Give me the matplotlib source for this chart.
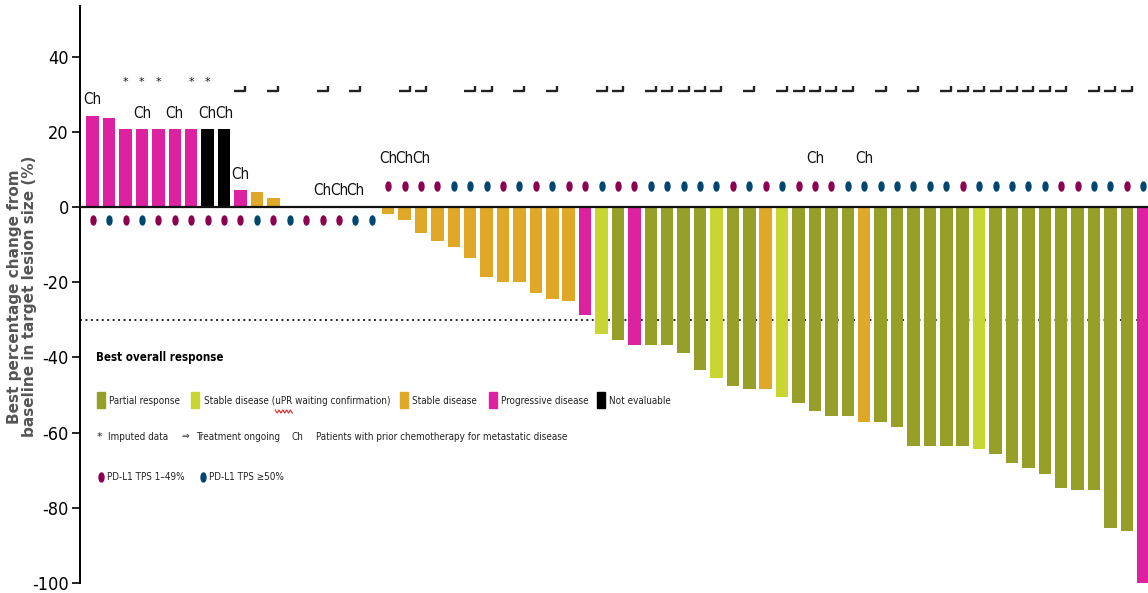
import matplotlib
matplotlib.use("Agg")
import matplotlib.pyplot as plt
from matplotlib.path import Path
from matplotlib.patches import Rectangle
from matplotlib.lines import Line2D
import numpy as np

# best % change per patient, ordered as in the waterfall
change = [24.3, 23.6, 20.7, 20.7, 20.7, 20.7, 20.7, 20.7, 20.7, 4.6, 3.9, 2.4,
          0, 0, 0, 0, 0, 0,
          -1.8, -3.4, -6.9, -9.1, -10.7, -13.5, -18.7, -20.0, -20.0, -22.9, -24.4, -25.1,
          -28.7, -33.8, -35.3, -36.8, -36.8, -36.8, -38.8, -43.3, -45.5, -47.6, -48.3,
          -48.3, -50.6, -52.1, -54.2, -55.7, -55.7, -57.1, -57.1, -58.5,
          -63.5, -63.5, -63.5, -63.5, -64.4, -65.8, -68.0, -69.5, -70.9,
          -74.6, -75.3, -75.3, -85.5, -86.2, -100.0]

# PR partial response, SDu stable disease (uPR), SD stable, PD progressive, NE not evaluable
response = ["PD", "PD", "PD", "PD", "PD", "PD", "PD", "NE", "NE", "PD", "SD", "SD",
            "SD", "SD", "SD", "SD", "SD", "SD",
            "SD", "SD", "SD", "SD", "SD", "SD", "SD", "SD", "SD", "SD", "SD", "SD",
            "PD", "SDu", "PR", "PD", "PR", "PR", "PR", "PR", "SDu", "PR", "PR",
            "SD", "SDu", "PR", "PR", "PR", "PR", "SD", "PR", "PR",
            "PR", "PR", "PR", "PR", "SDu", "PR", "PR", "PR", "PR",
            "PR", "PR", "PR", "PR", "PR", "PD"]

# PD-L1 TPS group: L = 1-49 %, H = >=50 %
pdl1 = ["L", "H", "L", "H", "L", "L", "L", "L", "L", "L", "H", "L",
        "H", "L", "L", "L", "H", "H",
        "L", "L", "L", "L", "H", "H", "H", "L", "H", "L", "H", "L",
        "L", "H", "L", "L", "H", "H", "H", "H", "H", "L", "H",
        "L", "H", "L", "L", "L", "H", "H", "H", "H",
        "H", "H", "H", "L", "H", "H", "H", "H", "H",
        "L", "L", "H", "H", "L", "H"]

chemo = [0, 3, 5, 7, 8, 9, 14, 15, 16, 18, 19, 20, 44, 47]
imputed = [2, 3, 4, 6, 7]
ongoing = [9, 11, 14, 16, 19, 20, 23, 24, 26, 28, 31, 32, 34, 35, 36, 37, 38, 40,
           42, 43, 44, 45, 46, 48, 50, 52, 53, 54, 55, 56, 57, 58, 59, 61, 62, 63]

bar_colors = {"PR": "#96A028", "SDu": "#C8D632", "SD": "#E0A828",
              "PD": "#DC22A0", "NE": "#000000"}
dot_colors = {"L": "#8C0050", "H": "#00466E"}

NARROW = dict(family=["Liberation Sans Narrow", "DejaVu Sans"], stretch="condensed")
W, H = 1148, 593
LEG_FS = 7.1

ellipse = Path(Path.unit_circle().vertices * [0.55, 1.0], Path.unit_circle().codes)
hook = Path([(-1, 0), (0.9, 0), (0.9, 0.9)], [Path.MOVETO, Path.LINETO, Path.LINETO])


def fx(px):
    return px / W


def fy(py):
    return 1 - py / H


plt.rcParams["axes.unicode_minus"] = False

fig = plt.figure(figsize=(W / 100, H / 100), dpi=100)
ax = fig.add_axes([80 / W, 10 / H, 1068 / W, 577 / H])

x = np.arange(len(change))
vals = np.array(change)
ax.bar(x, vals, width=0.76, color=[bar_colors[r] for r in response], zorder=3)
ax.axhline(0, color="#111111", lw=1.6, zorder=4)
ax.axhline(-30, color="#222222", lw=1.4, ls=(0, (1, 1.8)), zorder=1)

# PD-L1 dots
dot_y = np.where(vals < 0, 5.5, -3.5)
for grp in ["L", "H"]:
    sel = np.array(pdl1) == grp
    ax.plot(x[sel], dot_y[sel], ls="none", marker=ellipse, ms=6.5,
            color=dot_colors[grp], zorder=5)

# chemo labels
for i in chemo:
    v = change[i]
    if v > 0:
        y = v + 4.2
    elif v == 0:
        y = 4.5
    else:
        y = 13.0
    ax.text(i, y, "Ch", ha="center", va="center", fontsize=11,
            color="#111111", zorder=6, **NARROW)

for i in imputed:
    ax.text(i, 33.2, "*", ha="center", va="center", fontsize=8, color="#111111")

ax.plot(ongoing, [30.8] * len(ongoing), ls="none", marker=hook, ms=8.6,
        mfc="none", mec="#222222", mew=1.7, zorder=6)

ax.set_xlim(-0.774, 64.29)
ax.set_ylim(-100, 53.5)
ax.set_yticks([40, 20, 0, -20, -40, -60, -80, -100])
ax.tick_params(axis="y", length=6, width=1.2, labelsize=13, pad=2)
for lab in ax.get_yticklabels():
    lab.set_family(NARROW["family"])
    lab.set_stretch("condensed")
ax.set_xticks([])
for s in ["top", "right", "bottom"]:
    ax.spines[s].set_visible(False)
ax.spines["left"].set_linewidth(1.4)

fig.text(fx(22), 0.5, "Best percentage change from\nbaseline in target lesion size (%)",
         rotation=90, ha="center", va="center", fontsize=11, fontweight="bold",
         color="#555555", linespacing=1.0, family=["DejaVu Sans"])

# legend, drawn by hand
fig.text(fx(96), fy(357), "Best overall response", fontsize=8.3, fontweight="bold",
         va="center", ha="left", **NARROW)

row1 = [(97, "PR", 109, "Partial response"),
        (191, "SDu", 204, "Stable disease (uPR waiting confirmation)"),
        (400, "SD", 412, "Stable disease"),
        (489, "PD", 501, "Progressive disease"),
        (597, "NE", 609, "Not evaluable")]
for sx, key, tx, label in row1:
    fig.add_artist(Rectangle((fx(sx), fy(408)), 8 / W, 16 / H,
                             transform=fig.transFigure, color=bar_colors[key]))
    fig.text(fx(tx), fy(401), label, fontsize=LEG_FS, va="center", ha="left",
             color="#222222", **NARROW)

# spell-check squiggle under "uPR"
renderer = fig.canvas.get_renderer()
widths = []
for part in ["Stable disease (", "Stable disease (uPR"]:
    tmp = fig.text(0, 0, part, fontsize=LEG_FS, **NARROW)
    widths.append(tmp.get_window_extent(renderer).width)
    tmp.remove()
sq_x = np.linspace(204 + widths[0], 204 + widths[1], 10)
sq_y = np.where(np.arange(10) % 2 == 0, 410, 413)
fig.add_artist(Line2D(fx(sq_x), fy(sq_y), transform=fig.transFigure,
                      color="#E02020", lw=0.8))

row2 = [(97, "*", 8), (108, "Imputed data", LEG_FS), (181, "\u21d2", 6.5),
        (196, "Treatment ongoing", LEG_FS), (292, "Ch", LEG_FS),
        (316, "Patients with prior chemotherapy for metastatic disease", LEG_FS)]
for tx, label, fs in row2:
    if label in ("*", "\u21d2"):
        fig.text(fx(tx), fy(437), label, fontsize=fs, family=["DejaVu Sans"],
                 va="center", ha="left", color="#222222")
    else:
        fig.text(fx(tx), fy(437), label, fontsize=fs, va="center", ha="left",
                 color="#222222", **NARROW)

for dx, grp, tx, label in [(101, "L", 107, "PD-L1 TPS 1\u201349%"),
                           (203, "H", 209, "PD-L1 TPS \u226550%")]:
    fig.add_artist(Line2D([fx(dx)], [fy(477)], transform=fig.transFigure,
                          ls="none", marker=ellipse, ms=6.5, color=dot_colors[grp]))
    fig.text(fx(tx), fy(477), label, fontsize=LEG_FS, va="center", ha="left",
             color="#222222", **NARROW)

fig.savefig("out.png", dpi=100)
